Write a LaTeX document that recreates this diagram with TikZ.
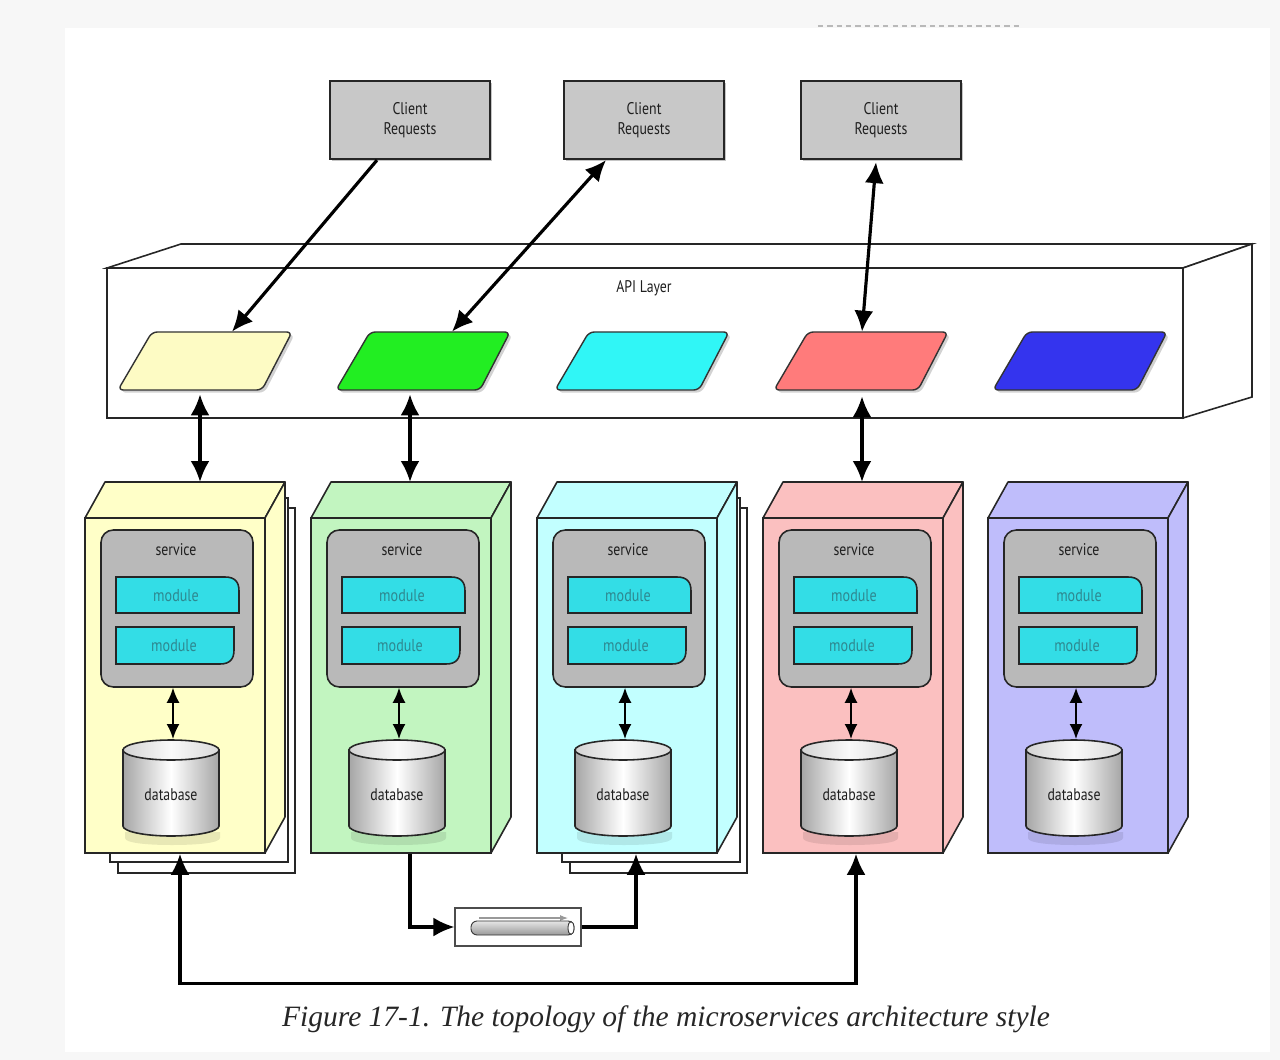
\documentclass[tikz,border=0pt]{standalone}
\usepackage{fontspec}
\usetikzlibrary{arrows.meta,shadows,calc}
\newfontfamily\labfont[FakeStretch=0.82]{PT Sans}
\newfontfamily\capfont{Liberation Serif}
\definecolor{syel}{HTML}{FFFFC8}
\definecolor{sgrn}{HTML}{C2F5C0}
\definecolor{scyn}{HTML}{C2FFFF}
\definecolor{sred}{HTML}{FBC0C0}
\definecolor{sblu}{HTML}{BFBDFB}
\definecolor{pyel}{HTML}{FDFBC4}
\definecolor{pgrn}{HTML}{22EE22}
\definecolor{pcyn}{HTML}{30F6F6}
\definecolor{pred}{HTML}{FF7B7B}
\definecolor{pblu}{HTML}{3434EE}
\definecolor{clgray}{HTML}{C8C8C8}
\definecolor{svgray}{HTML}{B9B9B9}
\definecolor{modfill}{HTML}{33DDE6}
\definecolor{modtext}{HTML}{2E8890}
\definecolor{bgout}{HTML}{F7F7F7}
\begin{document}
\begin{tikzpicture}[x=0.02cm,y=-0.02cm,
  lab/.style={font=\labfont\fontsize{9.6}{11}\selectfont, text=black!88, inner sep=1pt},
  modlab/.style={font=\labfont\fontsize{9.8}{11}\selectfont, text=modtext, inner sep=1pt},
  boxline/.style={draw=black!85, line width=0.9pt},
  client/.style={boxline, line width=1.3pt, fill=clgray, minimum width=3.2cm, minimum height=1.56cm,
     align=center, font=\labfont\fontsize{9.6}{11.5}\selectfont, text=black!88,
     drop shadow={opacity=0.45, shadow xshift=1.2pt, shadow yshift=-1.2pt}},
  gbox/.style={boxline, fill=svgray, rounded corners=7pt, minimum width=3.04cm, minimum height=3.14cm, inner sep=0pt},
  mod/.style={boxline, fill=modfill},
  para/.style={draw=black!80, line width=0.8pt, rounded corners=3pt,
     drop shadow={opacity=0.35, shadow xshift=1.5pt, shadow yshift=-1.5pt}},
  anch/.style={inner sep=0pt, minimum width=2.8cm, minimum height=1.16cm},
  big/.style={line width=1.8pt, {Latex[length=0.42cm,width=0.38cm]}-{Latex[length=0.42cm,width=0.38cm]}},
  bigr/.style={line width=1.8pt, -{Latex[length=0.42cm,width=0.38cm]}},
  small/.style={line width=1.1pt, {Latex[length=0.3cm,width=0.26cm]}-{Latex[length=0.3cm,width=0.26cm]}}
]
% background
\useasboundingbox (0,0) rectangle (1280,1060);
\fill[bgout] (0,0) rectangle (1280,1060);
\fill[white] (65,28) rectangle (1270,1052);
\draw[gray!55, line width=0.8pt, dash pattern=on 3pt off 2.3pt] (818,26) -- (1020,26);

% client boxes
\node[client] (c1) at (410,120) {Client\\Requests};
\node[client] (c2) at (644,120) {Client\\Requests};
\node[client] (c3) at (881,120) {Client\\Requests};

% API layer
\filldraw[fill=white, boxline] (107,268) -- (181,244) -- (1252,244) -- (1183,268) -- cycle;
\filldraw[fill=white, boxline] (1183,268) -- (1252,244) -- (1252,397) -- (1183,418) -- cycle;
\node[fill=white, boxline, minimum width=21.52cm, minimum height=3cm, inner sep=0pt] (api) at (645,343) {};
\node[lab] (apit) at (644,288) {API Layer};

% parallelograms
\foreach \i/\cx/\pc in {1/205/pyel, 2/423/pgrn, 3/642/pcyn, 4/861/pred, 5/1080/pblu}{
  \path[para, fill=\pc] (\cx-53,332) -- (\cx+87,332) -- (\cx+57,390) -- (\cx-87,390) -- cycle;
  \node[anch] (p\i) at (\cx,361) {};
}

% services
\foreach \i/\x/\fc/\pg in {1/85/syel/1, 2/311/sgrn/0, 3/537/scyn/1, 4/763/sred/0, 5/988/sblu/0}{
  \ifnum\pg=1
    \filldraw[fill=white, boxline] (\x+33,508) rectangle (\x+210,873);
    \filldraw[fill=white, boxline] (\x+25,498) rectangle (\x+203,862);
  \fi
  \filldraw[fill=\fc, boxline, line join=round] (\x,518) -- (\x+20,482) -- (\x+200,482) -- (\x+180,518) -- cycle;
  \filldraw[fill=\fc, boxline, line join=round] (\x+180,518) -- (\x+200,482) -- (\x+200,817) -- (\x+180,853) -- cycle;
  \node[fill=\fc, boxline, minimum width=3.6cm, minimum height=6.7cm, inner sep=0pt] (f\i) at (\x+90,685.5) {};
  \coordinate (t\i) at (\x+100,482);
  \node[gbox] (g\i) at (\x+92,608.5) {};
  \node[lab] (gt\i) at (\x+91,550) {service};
  \filldraw[mod] (\x+31,613) -- (\x+31,577) -- (\x+140,577) .. controls (\x+150,577) and (\x+154,582) .. (\x+154,591) -- (\x+154,613) -- cycle;
  \node[modlab] (ma\i) at (\x+91,596) {module};
  \filldraw[mod] (\x+31,664) -- (\x+31,627) -- (\x+149,627) -- (\x+149,650) .. controls (\x+149,659) and (\x+145,664) .. (\x+135,664) -- cycle;
  \node[modlab] (mb\i) at (\x+89,646) {module};
  % database cylinder
  \path[fill=black, opacity=0.09] (\x+40,832) -- (\x+40,838) .. controls (\x+40,843) and (\x+62,845) .. (\x+87,845) .. controls (\x+112,845) and (\x+135,843) .. (\x+135,838) -- (\x+135,832) -- cycle;
  \draw[line width=0.9pt, draw=black!85, left color=gray!70, right color=gray!70, middle color=white]
     (\x+38,750) -- (\x+38,826) .. controls (\x+38,831.5) and (\x+59.5,836) .. (\x+86,836)
     .. controls (\x+112.5,836) and (\x+134,831.5) .. (\x+134,826) -- (\x+134,750) -- cycle;
  \draw[line width=0.9pt, draw=black!85, left color=gray!35, right color=gray!30, middle color=white!95!gray]
     (\x+86,750) ellipse [x radius=48, y radius=10];
  \node[lab] (d\i) at (\x+86,795) {database};
  \coordinate (dt\i) at (\x+88,739);
  \draw[small] (dt\i |- g\i.south) -- (dt\i);
}

% client <-> API arrows
\draw[bigr] ([xshift=-0.66cm]c1.south) -- ([xshift=0.54cm]p1.north);
\draw[big] ([xshift=0.58cm]p2.north) -- ([xshift=-0.76cm]c2.south);
\draw[big] ([xshift=-0.1cm, yshift=-0.04cm]c3.south) -- ([xshift=0.02cm]p4.north);

% API <-> services
\draw[big] ([xshift=-0.1cm, yshift=-0.08cm]p1.south) -- ([xshift=-0.1cm]p1.south |- t1);
\draw[big] ([xshift=-0.26cm, yshift=-0.08cm]p2.south) -- ([xshift=-0.26cm]p2.south |- t2);
\draw[big] ([xshift=0.02cm, yshift=-0.12cm]p4.south) -- ([xshift=0.02cm]p4.south |- t4);

% queue
\node[draw=black!70, line width=0.6pt, fill=white, minimum width=2.52cm, minimum height=0.76cm, inner sep=0pt] (q) at (518,927) {};
\draw[gray!80, line width=0.6pt, -{Latex[length=0.16cm,width=0.12cm]}] (479,918) -- (568,918);
\draw[line width=0.5pt, draw=black!80, top color=gray!20, bottom color=gray!80, rounded corners=3.5pt] (471,921) rectangle (574,935);
\draw[line width=0.5pt, draw=black!80, fill=white] (571,928) ellipse [x radius=3, y radius=6.5];

% bottom connectors
\draw[big] ([xshift=0.1cm]f1.south) -- ++(0,130) -| ([xshift=0.06cm]f4.south);
\draw[bigr] ([xshift=0.18cm]f2.south) |- (q.west);
\draw[bigr] (q.east) -| ([xshift=0.18cm]f3.south);

% caption
\node[anchor=base, font=\capfont\itshape\fontsize{16.8}{19}\selectfont, text=black!85, inner sep=0pt] (cap) at (666,1026)
  {Figure 17-1. The topology of the microservices architecture style};
\end{tikzpicture}
\end{document}
